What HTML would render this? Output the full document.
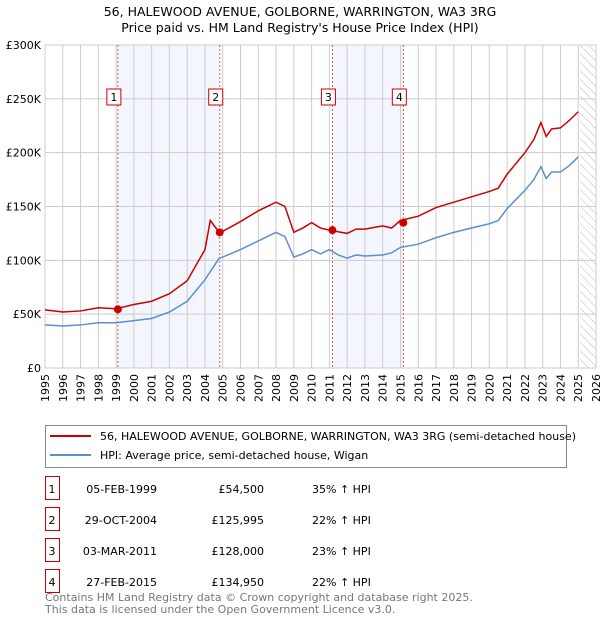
<!DOCTYPE html>
<html><head><meta charset="utf-8"><style>
body{margin:0;background:#fff;font-family:"Liberation Sans","DejaVu Sans",sans-serif;}
svg text{font-family:"DejaVu Sans","Liberation Sans",sans-serif;}
</style></head><body>
<svg id="c" width="600" height="620" viewBox="0 0 600 620" xmlns="http://www.w3.org/2000/svg">
<text x="300" y="16" font-size="12.5" text-anchor="middle">56, HALEWOOD AVENUE, GOLBORNE, WARRINGTON, WA3 3RG</text>
<text x="300" y="32" font-size="12.5" text-anchor="middle">Price paid vs. HM Land Registry's House Price Index (HPI)</text>
<g id="plot"></g>
<g>
<rect x="45.5" y="425.5" width="521" height="42" fill="#fff" stroke="#888"/>
<line x1="50" y1="436" x2="91" y2="436" stroke="#cc0000" stroke-width="2"/>
<text x="100" y="440" font-size="11">56, HALEWOOD AVENUE, GOLBORNE, WARRINGTON, WA3 3RG (semi-detached house)</text>
<line x1="50" y1="455" x2="91" y2="455" stroke="#5b8fd4" stroke-width="2"/>
<text x="100" y="459" font-size="11">HPI: Average price, semi-detached house, Wigan</text>
</g>
<g id="table" font-size="11"></g>
<text x="45" y="601" font-size="11" fill="#777">Contains HM Land Registry data © Crown copyright and database right 2025.</text>
<text x="45" y="613" font-size="11" fill="#777">This data is licensed under the Open Government Licence v3.0.</text>
</svg>
<script>
const hpiYears=[1995,1996,1997,1998,1999,2000,2001,2002,2003,2004,2004.8,2005,2006,2007,2008,2008.5,2009,2009.5,2010,2010.5,2011,2011.5,2012,2012.5,2013,2014,2014.5,2015,2016,2017,2018,2019,2020,2020.5,2021,2022,2022.5,2022.9,2023.2,2023.5,2024,2024.5,2025];
const hpiValues=[40,39,40,42,42,44,46,52,62,82,102,103,110,118,126,122,103,106,110,106,110,105,102,105,104,105,107,112,115,121,126,130,134,137,148,165,175,187,176,182,182,188,196];
const propYears=[1995,1996,1997,1998,1999,2000,2001,2002,2003,2004,2004.3,2004.8,2005,2006,2007,2008,2008.5,2009,2009.5,2010,2010.5,2011,2012,2012.5,2013,2014,2014.5,2015,2016,2017,2018,2019,2020,2020.5,2021,2022,2022.5,2022.9,2023.2,2023.5,2024,2024.5,2025];
const propValues=[54,52,53,56,55,59,62,69,81,110,137,126,127,136,146,154,150,126,130,135,130,128,125,129,129,132,130,137,141,149,154,159,164,167,180,200,212,228,215,222,223,230,238];
const saleDates=[1999.1,2004.83,2011.17,2015.16];
const salePrices=[54.5,125.995,128,134.95];
const saleLabels=["05-FEB-1999","29-OCT-2004","03-MAR-2011","27-FEB-2015"];
const salePriceText=["£54,500","£125,995","£128,000","£134,950"];
const saleHpiText=["35% ↑ HPI","22% ↑ HPI","23% ↑ HPI","22% ↑ HPI"];
const yTicks=[0,50,100,150,200,250,300];
const yTickLabels=["£0","£50K","£100K","£150K","£200K","£250K","£300K"];
const NS="http://www.w3.org/2000/svg";
const X0=45,X1=596,Y0=368,Y1=45;
const xs=y=>X0+(y-1995)*(X1-X0)/31;
const ys=v=>Y0-v*(Y0-Y1)/300;
const plot=document.getElementById('plot');
function mk(t,a,p){const e=document.createElementNS(NS,t);for(const k in a)e.setAttribute(k,a[k]);(p||plot).appendChild(e);return e;}
// shading
for(let i=0;i<saleDates.length;i+=2){const r=mk('rect',{x:xs(saleDates[i]),y:Y1,width:xs(saleDates[i+1])-xs(saleDates[i]),height:Y0-Y1,fill:'#eef3fc',opacity:0.7});

}
// hatch
const defs=mk('defs',{});const pat=mk('pattern',{id:'h',width:6,height:6,patternUnits:'userSpaceOnUse',patternTransform:'rotate(-45)'},defs);mk('line',{x1:0,y1:0,x2:0,y2:6,stroke:'#bbb','stroke-width':1},pat);
const hr=mk('rect',{x:xs(2025.1),y:Y1,width:X1-xs(2025.1),height:Y0-Y1,fill:'url(#h)'});


// grid
for(let y=1995;y<=2026;y++){const l=mk('line',{x1:xs(y),y1:Y1,x2:xs(y),y2:Y0,stroke:'#ccc','stroke-width':1});


const t=mk('text',{x:0,y:0,'font-size':11,'text-anchor':'end',transform:`translate(${xs(y)+4},${Y0+6}) rotate(-90)`});t.textContent=y;

}
yTicks.forEach((v,i)=>{const l=mk('line',{x1:X0,y1:ys(v),x2:X1,y2:ys(v),stroke:'#ccc','stroke-width':1});


const t=mk('text',{x:X0-4,y:ys(v)+4,'font-size':11,'text-anchor':'end'});t.textContent=yTickLabels[i];

});
mk('rect',{x:X0,y:Y1,width:X1-X0,height:Y0-Y1,fill:'none',stroke:'#ccc'});
// sale vlines
saleDates.forEach(d=>{const l=mk('line',{x1:xs(d),y1:Y1,x2:xs(d),y2:Y0,stroke:'#e05050','stroke-width':1,'stroke-dasharray':'2,2'});

});
function line(xsA,vs,c,n){const p=mk('polyline',{points:xsA.map((y,i)=>xs(y)+','+ys(vs[i])).join(' '),fill:'none',stroke:c,'stroke-width':1.5});

}
line(hpiYears,hpiValues,'#5b8fd4','hpi-line');
line(propYears,propValues,'#cc0000','property-line');
saleDates.forEach((d,i)=>{const c=mk('circle',{cx:xs(d),cy:ys(salePrices[i]),r:4,fill:'#cc0000'});


const b=mk('rect',{x:xs(d)-11,y:89,width:14,height:16,fill:'#fff',stroke:'#cc0000'});


const t=mk('text',{x:xs(d)-4,y:101,'font-size':11,'text-anchor':'middle'});t.textContent=i+1;

});
const tb=document.getElementById('table');
saleDates.forEach((d,i)=>{const y=489+i*31;
const b=mk('rect',{x:45.5,y:y-12.5,width:14,height:23,fill:'#fff',stroke:'#cc0000'},tb);


const cells=[[52,'middle',String(i+1)],[157,'end',saleLabels[i]],[264,'end',salePriceText[i]],[312,'start',saleHpiText[i]]];
cells.forEach(c=>{const t=mk('text',{x:c[0],y:y+4,'text-anchor':c[1]},tb);t.textContent=c[2];

});});
</script>
</body></html>
